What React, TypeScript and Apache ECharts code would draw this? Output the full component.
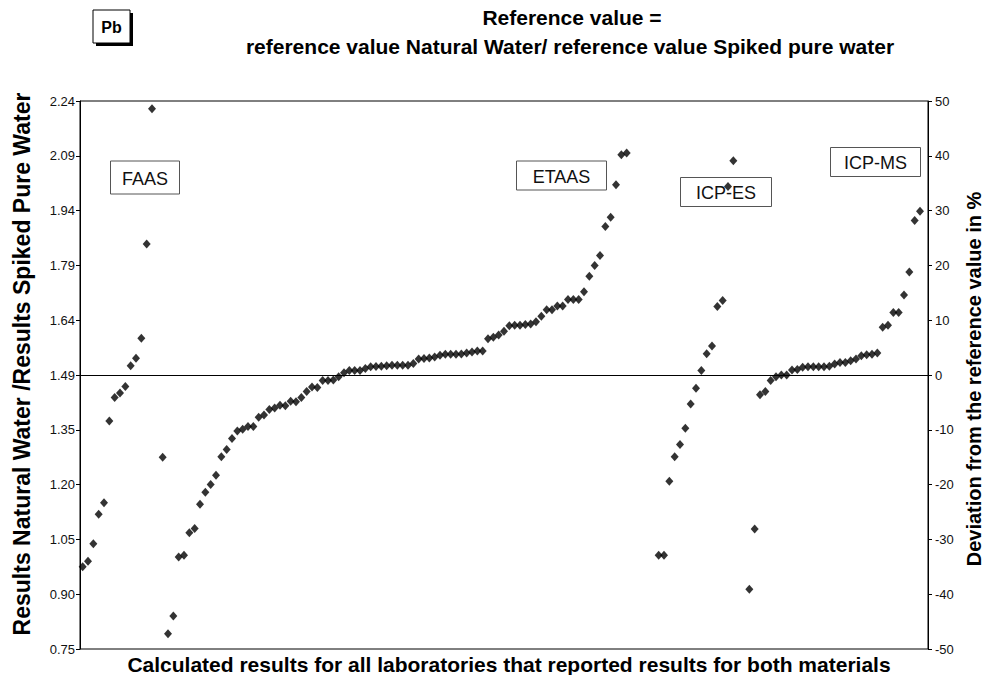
import React, { useEffect, useRef } from "react";
import * as echarts from "echarts";

// Left-axis tick labels: ratio values that correspond to the -50 … +50 % deviation ticks
const leftTickLabels = ["0.75", "0.90", "1.05", "1.20", "1.35", "1.49", "1.64", "1.79", "1.94", "2.09", "2.24"];

// Deviation from the reference value (%) per laboratory, sorted within each technique
const faas = [-35.0, -34.0, -30.8, -25.4, -23.3, -8.4, -4.1, -3.3, -2.1, 1.7, 3.05, 6.7, 23.9, 48.6];

const etaas = [
  -15.0, -47.2, -44.0, -33.2, -32.9, -28.8, -28.0, -23.6, -21.4, -20.0,
  -18.3, -14.9, -13.6, -11.6, -10.2, -9.9, -9.4, -9.4, -7.7, -7.3,
  -6.3, -6.0, -5.5, -5.6, -4.8, -4.9, -4.1, -3.0, -2.2, -2.3,
  -1.0, -1.0, -0.9, -0.3, 0.4, 0.8, 0.8, 0.8, 1.2, 1.5,
  1.55, 1.6, 1.7, 1.8, 1.8, 1.8, 1.8, 2.1, 2.9, 3.0,
  3.1, 3.3, 3.6, 3.8, 3.8, 3.8, 3.85, 4.0, 4.2, 4.4,
  4.4, 6.6, 6.9, 7.3, 8.0, 9.0, 9.1, 9.1, 9.2, 9.3,
  9.7, 10.7, 11.9, 11.9, 12.6, 12.6, 13.8, 13.8, 13.8, 15.2,
  18.0, 20.0, 21.8, 27.1, 28.8, 34.7, 40.2, 40.5,
];

const icpEs = [-32.9, -32.9, -19.4, -14.9, -12.7, -9.7, -5.3, -2.4, 0.8, 3.9, 5.3, 12.5, 13.6, 34.4, 39.1];

const icpMs = [
  -39.1, -28.1, -3.6, -3.0, -1.0, -0.3, 0.0, 0.0, 0.9, 1.0,
  1.4, 1.5, 1.5, 1.5, 1.5, 1.6, 2.0, 2.3, 2.3, 2.6,
  2.9, 3.5, 3.7, 3.8, 4.0, 8.7, 9.1, 11.4, 11.4, 14.6,
  18.8, 28.2, 29.9,
];

// Empty laboratory slots separating the technique groups
const gapAfterFaas = 1;
const gapAfterEtaas = 5;
const gapAfterIcpEs = 2;
const gapAfterIcpMs = 1;

const empty = (n: number) => Array.from({ length: n }, () => null as number | null);

const allValues: (number | null)[] = [
  ...faas, ...empty(gapAfterFaas),
  ...etaas, ...empty(gapAfterEtaas),
  ...icpEs, ...empty(gapAfterIcpEs),
  ...icpMs, ...empty(gapAfterIcpMs),
];
const labs = allValues.map((_, i) => String(i + 1));

const FONT = "'Liberation Sans', Arial, Helvetica, sans-serif";

function labelBox(text: string, x: number, y: number, w: number, h: number) {
  return {
    type: "group",
    z: 1,
    children: [
      {
        type: "rect",
        shape: { x, y, width: w, height: h },
        style: { fill: "#fff", stroke: "#555", lineWidth: 1 },
      },
      {
        type: "text",
        x: x + w / 2,
        y: y + h / 2 + 1,
        style: {
          text,
          fill: "#111",
          font: `18px ${FONT}`,
          align: "center",
          verticalAlign: "middle",
        },
      },
    ],
  };
}

export default function App() {
  const ref = useRef<HTMLDivElement>(null);

  useEffect(() => {
    if (!ref.current) return;
    const chart = echarts.init(ref.current, undefined, { renderer: "svg" });

    const valueAxisCommon = {
      type: "value",
      min: -50,
      max: 50,
      interval: 10,
      splitLine: { show: false },
      axisLine: { show: true, lineStyle: { color: "#000", width: 1 } },
      axisTick: { show: true, length: 4, inside: false, lineStyle: { color: "#000" } },
    };

    chart.setOption({
      animation: false,
      backgroundColor: "#fff",
      grid: {
        left: 80,
        right: 58,
        top: 101,
        bottom: 26,
        show: true,
        borderColor: "#000",
        borderWidth: 1,
        backgroundColor: "transparent",
      },
      xAxis: {
        type: "category",
        data: labs,
        boundaryGap: true,
        axisLine: { show: true, onZero: true, onZeroAxisIndex: 1, lineStyle: { color: "#000", width: 1 } },
        axisTick: { show: false },
        axisLabel: { show: false },
        splitLine: { show: false },
      },
      yAxis: [
        {
          ...valueAxisCommon,
          position: "left",
          axisLabel: {
            color: "#111",
            fontFamily: FONT,
            fontSize: 13,
            margin: 5,
            formatter: (v: number) => leftTickLabels[Math.round((v + 50) / 10)] ?? "",
          },
        },
        {
          ...valueAxisCommon,
          position: "right",
          axisLabel: { color: "#111", fontFamily: FONT, fontSize: 13, margin: 7 },
        },
      ],
      series: [
        {
          type: "scatter",
          yAxisIndex: 1,
          data: allValues,
          symbol: "diamond",
          symbolSize: [8, 9],
          itemStyle: { color: "#000" },
          z: 5,
        },
      ],
      graphic: [
        // element symbol box with drop shadow
        { type: "rect", z: 1, shape: { x: 96, y: 13, width: 37, height: 33 }, style: { fill: "#000" } },
        { type: "rect", z: 1, shape: { x: 93, y: 10, width: 37, height: 33 }, style: { fill: "#fff", stroke: "#000", lineWidth: 1 } },
        {
          type: "text", z: 2, x: 111.5, y: 27,
          style: { text: "Pb", fill: "#000", font: `bold 16px ${FONT}`, align: "center", verticalAlign: "middle" },
        },
        {
          type: "text", z: 2, x: 572, y: 17,
          style: { text: "Reference value =", fill: "#000", font: `bold 21px ${FONT}`, align: "center", verticalAlign: "middle" },
        },
        {
          type: "text", z: 2, x: 570, y: 46,
          style: {
            text: "reference value Natural Water/ reference value Spiked pure water",
            fill: "#000", font: `bold 21px ${FONT}`, align: "center", verticalAlign: "middle",
          },
        },
        {
          type: "text", z: 2, x: 22, y: 364, rotation: Math.PI / 2,
          style: {
            text: "Results Natural Water /Results Spiked Pure Water",
            fill: "#000", font: `bold 23px ${FONT}`, align: "center", verticalAlign: "middle",
          },
        },
        {
          type: "text", z: 2, x: 974, y: 379, rotation: Math.PI / 2,
          style: {
            text: "Deviation from the reference value in %",
            fill: "#000", font: `bold 20px ${FONT}`, align: "center", verticalAlign: "middle",
          },
        },
        {
          type: "text", z: 2, x: 509, y: 664,
          style: {
            text: "Calculated results for all laboratories that reported results for both materials",
            fill: "#000", font: `bold 21px ${FONT}`, align: "center", verticalAlign: "middle",
          },
        },
        labelBox("FAAS", 110.5, 161, 69, 33),
        labelBox("ETAAS", 516.5, 161, 90, 29),
        labelBox("ICP-ES", 680.5, 177.5, 91, 29),
        labelBox("ICP-MS", 830.5, 147.5, 90, 29),
      ],
    });

    return () => chart.dispose();
  }, []);

  return (
    <div
      ref={ref}
      style={{ position: "fixed", left: 0, top: 0, width: 986, height: 675, background: "#fff" }}
    />
  );
}
